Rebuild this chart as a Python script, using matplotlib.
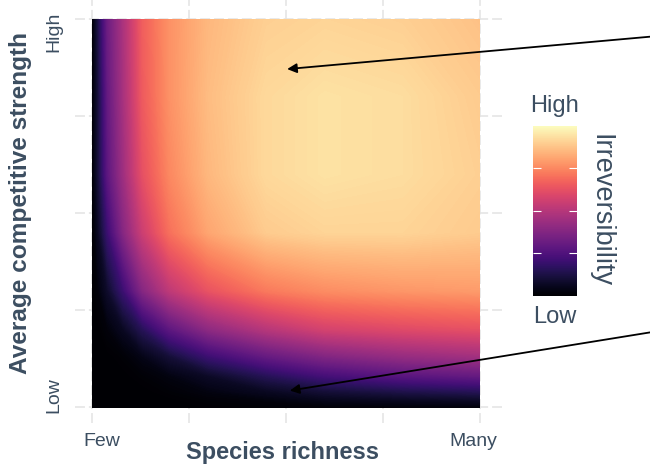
import numpy as np
import matplotlib
matplotlib.use('Agg')
import matplotlib.pyplot as plt

plt.rcParams['font.family'] = ['Liberation Sans', 'DejaVu Sans']
TEXT = '#3c4e61'

# grid nodes (0 = few / low, 1 = many / high)
richness = [0, 0.015, 0.04, 0.08, 0.13, 0.2, 0.3, 0.45, 0.6, 0.8, 1.0]
strength = [0, 0.015, 0.04, 0.08, 0.13, 0.2, 0.3, 0.45, 0.6, 0.8, 1.0]

# irreversibility, one row per strength level (low -> high)
irr_s000 = [0, 0, 0, 0, 0, 0, 0.005, 0.01, 0.015, 0.02, 0.02]
irr_s015 = [0, 0, 0, 0, 0, 0, 0.01, 0.02, 0.04, 0.05, 0.06]
irr_s040 = [0, 0, 0, 0, 0, 0.01, 0.03, 0.06, 0.10, 0.13, 0.15]
irr_s080 = [0, 0, 0, 0, 0.01, 0.03, 0.07, 0.15, 0.22, 0.27, 0.30]
irr_s130 = [0, 0, 0, 0.01, 0.04, 0.10, 0.20, 0.30, 0.37, 0.42, 0.45]
irr_s200 = [0, 0, 0.02, 0.06, 0.15, 0.28, 0.40, 0.50, 0.57, 0.60, 0.62]
irr_s300 = [0, 0.02, 0.08, 0.20, 0.38, 0.52, 0.63, 0.72, 0.76, 0.78, 0.79]
irr_s450 = [0, 0.06, 0.20, 0.38, 0.55, 0.70, 0.81, 0.89, 0.91, 0.91, 0.89]
irr_s600 = [0, 0.10, 0.28, 0.44, 0.62, 0.75, 0.85, 0.92, 0.94, 0.93, 0.90]
irr_s800 = [0, 0.10, 0.30, 0.46, 0.65, 0.77, 0.86, 0.92, 0.94, 0.93, 0.89]
irr_s1000 = [0, 0.12, 0.32, 0.47, 0.66, 0.77, 0.85, 0.90, 0.91, 0.90, 0.87]

Z = np.array([irr_s000, irr_s015, irr_s040, irr_s080, irr_s130, irr_s200,
              irr_s300, irr_s450, irr_s600, irr_s800, irr_s1000])

x_labels = ['Few', 'Many']
y_labels = ['Low', 'High']

fig = plt.figure(figsize=(6.5, 4.68), dpi=100)
ax = fig.add_axes([75 / 650, 45 / 468, 427 / 650, 423 / 468])

cf = ax.contourf(richness, strength, Z, levels=np.linspace(0, 1, 501),
                 cmap='magma', vmin=0, vmax=1, zorder=2)

ax.set_xlim(-0.044, 1.057)
ax.set_ylim(-0.041, 1.049)

# dashed panel grid at quarters, labels only at the ends
quarters = [0, 0.25, 0.5, 0.75, 1.0]
ax.set_xticks(quarters, minor=True)
ax.set_yticks(quarters, minor=True)
ax.set_xticks([0.024, 0.983])
ax.set_xticklabels(x_labels)
ax.set_yticks([0.03, 0.966])
ax.set_yticklabels(y_labels, rotation=90, va='center')
ax.grid(which='minor', color='#e3e3e3', lw=1.1, ls=(0, (6.5, 2.6)), zorder=0)
ax.grid(which='major', visible=False)
ax.set_axisbelow(True)
ax.tick_params(which='both', length=0, labelsize=14, labelcolor=TEXT)
ax.tick_params(axis='x', pad=7)
ax.tick_params(axis='y', pad=9)
for s in ax.spines.values():
    s.set_visible(False)

fig.text(283 / 650, 1 - 452 / 468, 'Species richness', ha='center', va='center',
         fontsize=17, fontweight='bold', color=TEXT)
fig.text(21 / 650, 1 - 203 / 468, 'Average competitive strength', ha='center',
         va='center', rotation=90, fontsize=17.6, fontweight='bold', color=TEXT)

# colour bar
cax = fig.add_axes([533 / 650, (468 - 295.7) / 468, 44 / 650, 170 / 468])
cb = fig.colorbar(plt.cm.ScalarMappable(norm=plt.Normalize(0, 1), cmap='magma'),
                  cax=cax)
cb.outline.set_visible(False)
cb.set_ticks([0.25, 0.5, 0.75])
cax.tick_params(direction='in', left=True, right=True, labelleft=False,
                labelright=False, color='white', length=6, width=0.8)
fig.text(555 / 650, 1 - 106 / 468, 'High', ha='center', va='center',
         fontsize=17, color=TEXT)
fig.text(555 / 650, 1 - 317 / 468, 'Low', ha='center', va='center',
         fontsize=17, color=TEXT)
fig.text(600 / 650, 1 - 211 / 468, 'Irreversibility', ha='center', va='center',
         rotation=270, fontsize=19.5, color=TEXT)

# arrows pointing at the two regions
arrow = dict(arrowstyle='-|>', color='black', lw=1.3, mutation_scale=14,
             shrinkA=0, shrinkB=0)
ax.annotate('', xy=(0.503, 0.871), xycoords='data',
            xytext=(1.0, 1 - 36.7 / 468), textcoords='figure fraction',
            arrowprops=arrow, annotation_clip=False)
ax.annotate('', xy=(0.51, 0.0425), xycoords='data',
            xytext=(1.0, 1 - 332.4 / 468), textcoords='figure fraction',
            arrowprops=arrow, annotation_clip=False)

fig.savefig('out.png', dpi=100)
